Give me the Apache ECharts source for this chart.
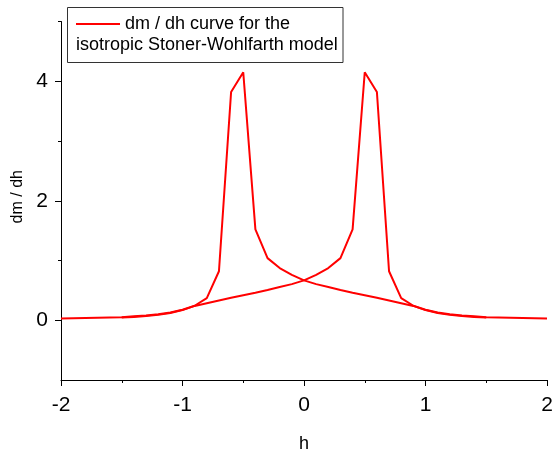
<!DOCTYPE html>
<html>
<head>
<meta charset="utf-8">
<title>dm / dh curve</title>
<script src="https://cdn.jsdelivr.net/npm/echarts@6/dist/echarts.min.js"></script>
<style>
html, body { margin: 0; padding: 0; background: #fff; }
#chart { width: 553px; height: 453px; }
</style>
</head>
<body>
<div id="chart"></div>
<script>
// branch with the peak at h = -0.5
var hDown = [-2.0, -1.5, -1.4, -1.3, -1.2, -1.1, -1.0, -0.9, -0.8, -0.7, -0.6, -0.5, -0.4, -0.3, -0.2, -0.1, 0, 0.1, 0.2, 0.3, 0.4, 0.5, 0.6, 0.7, 0.8, 0.9, 1.0, 1.1, 1.2, 1.3, 1.4, 1.5];
var dmDown = [0.03, 0.05, 0.065, 0.08, 0.1, 0.13, 0.175, 0.243, 0.37, 0.82, 3.82, 4.15, 1.52, 1.04, 0.873, 0.76, 0.667, 0.605, 0.555, 0.505, 0.46, 0.42, 0.375, 0.33, 0.285, 0.24, 0.17, 0.12, 0.09, 0.07, 0.055, 0.045];

// branch with the peak at h = +0.5
var hUp = [-1.5, -1.4, -1.3, -1.2, -1.1, -1.0, -0.9, -0.8, -0.7, -0.6, -0.5, -0.4, -0.3, -0.2, -0.1, 0, 0.1, 0.2, 0.3, 0.4, 0.5, 0.6, 0.7, 0.8, 0.9, 1.0, 1.1, 1.2, 1.3, 1.4, 1.5, 2.0];
var dmUp = [0.045, 0.055, 0.07, 0.09, 0.12, 0.17, 0.24, 0.285, 0.33, 0.375, 0.42, 0.46, 0.505, 0.555, 0.605, 0.667, 0.76, 0.873, 1.04, 1.52, 4.15, 3.82, 0.82, 0.37, 0.243, 0.175, 0.13, 0.1, 0.08, 0.065, 0.05, 0.03];

var yMajor = [0, 2, 4];
var yMinor = [1, 3, 5];
var legendLines = ["dm / dh curve for the", "isotropic Stoner-Wohlfarth model"];

function pairs(xs, ys) {
  var out = [];
  for (var i = 0; i < xs.length; i++) out.push([xs[i], ys[i]]);
  return out;
}

var font = "Liberation Sans, Arial, sans-serif";
var chart = echarts.init(document.getElementById("chart"));

var option = {
  animation: false,
  backgroundColor: "#fff",
  textStyle: { fontFamily: font },
  grid: { left: 61, right: 6, top: 21.5, bottom: 73, containLabel: false, outerBoundsMode: "none" },
  xAxis: {
    type: "value",
    min: -2,
    max: 2,
    interval: 1,
    name: "h",
    nameLocation: "middle",
    nameGap: 55,
    nameTextStyle: { fontSize: 18, color: "#000", fontFamily: font },
    axisLine: { onZero: false, lineStyle: { color: "#000", width: 1 } },
    axisTick: { length: 6, lineStyle: { color: "#000" } },
    minorTick: { show: true, splitNumber: 2, length: 3, lineStyle: { color: "#000" } },
    axisLabel: { fontSize: 21, color: "#000", margin: 15, fontFamily: font },
    splitLine: { show: false }
  },
  yAxis: [
    {
      type: "value",
      min: -1,
      max: 5,
      name: "dm / dh",
      nameLocation: "middle",
      nameGap: 35,
      nameTextStyle: { fontSize: 16, color: "#000", fontFamily: font, padding: [0, 0, 0, 8] },
      axisLine: { show: true, onZero: false, lineStyle: { color: "#000", width: 1 } },
      axisTick: { show: true, length: 6, customValues: yMajor, lineStyle: { color: "#000" } },
      axisLabel: { fontSize: 21, color: "#000", margin: 13, customValues: yMajor, fontFamily: font },
      splitLine: { show: false }
    },
    {
      type: "value",
      min: -1,
      max: 5,
      position: "left",
      axisLine: { show: false, onZero: false },
      axisTick: { show: true, length: 3, customValues: yMinor, lineStyle: { color: "#000" } },
      axisLabel: { show: false },
      splitLine: { show: false }
    }
  ],
  series: [
    {
      name: "dm / dh",
      type: "line",
      data: pairs(hDown, dmDown),
      showSymbol: false,
      lineStyle: { color: "#ff0000", width: 2 }
    },
    {
      name: "dm / dh",
      type: "line",
      data: pairs(hUp, dmUp),
      showSymbol: false,
      lineStyle: { color: "#ff0000", width: 2 }
    }
  ],
  graphic: [
    {
      type: "rect",
      shape: { x: 67.5, y: 7.5, width: 275.5, height: 55 },
      style: { fill: "#fff", stroke: "#333", lineWidth: 1 },
      z: 100
    },
    {
      type: "line",
      shape: { x1: 76, y1: 24, x2: 120, y2: 24 },
      style: { stroke: "#ff0000", lineWidth: 2 },
      z: 101
    },
    {
      type: "text",
      x: 125,
      y: 24,
      style: { text: legendLines[0], fontSize: 18, fontFamily: font, fill: "#000", verticalAlign: "middle" },
      z: 101
    },
    {
      type: "text",
      x: 76,
      y: 45,
      style: { text: legendLines[1], fontSize: 18, fontFamily: font, fill: "#000", verticalAlign: "middle" },
      z: 101
    }
  ]
};

chart.setOption(option);
</script>
</body>
</html>
